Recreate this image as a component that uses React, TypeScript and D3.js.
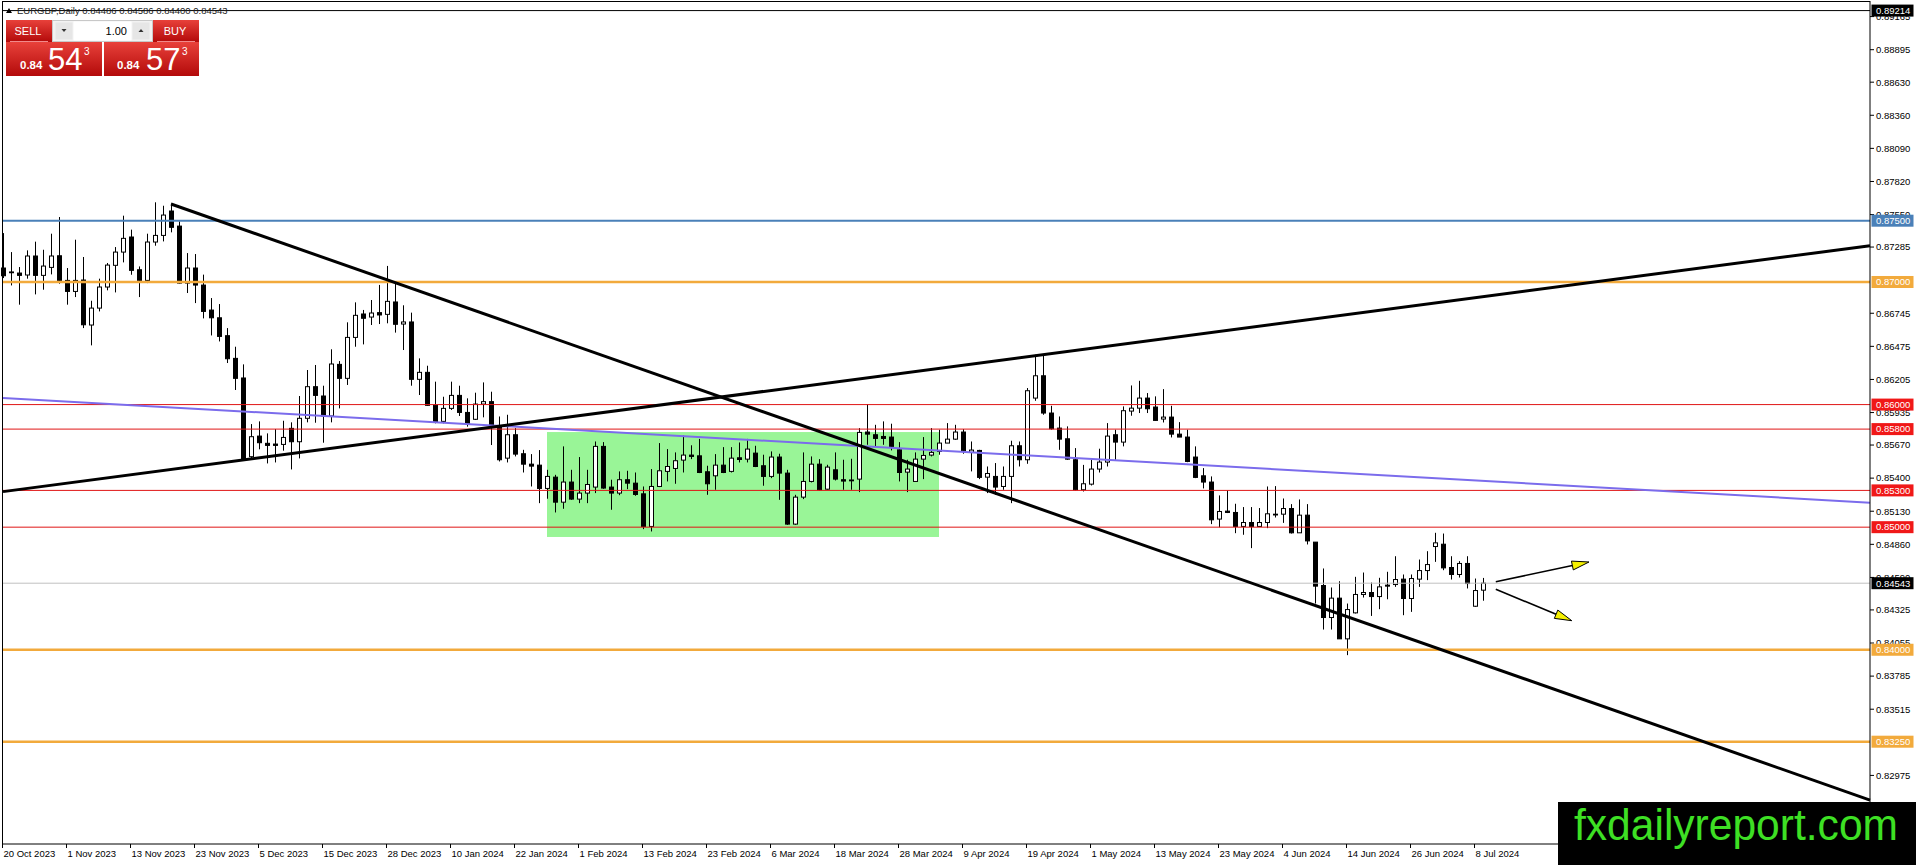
import React, { useEffect } from "react";
import * as d3 from "d3";

const W = 1916;
const H = 865;
const left = 3;
const right = 1870;
const top = 1.5;
const bottom = 844;

// daily EURGBP bars, 20 Oct 2023 .. 9 Jul 2024
const dateLabels = [
  "20 Oct 2023", "1 Nov 2023", "13 Nov 2023", "23 Nov 2023", "5 Dec 2023", "15 Dec 2023",
  "28 Dec 2023", "10 Jan 2024", "22 Jan 2024", "1 Feb 2024", "13 Feb 2024", "23 Feb 2024",
  "6 Mar 2024", "18 Mar 2024", "28 Mar 2024", "9 Apr 2024", "19 Apr 2024", "1 May 2024",
  "13 May 2024", "23 May 2024", "4 Jun 2024", "14 Jun 2024", "26 Jun 2024", "8 Jul 2024",
];

const opens = [
  0.87114, 0.87082, 0.87073, 0.87057, 0.87212, 0.87054, 0.87119, 0.87214, 0.87013, 0.86923,
  0.87016, 0.86649, 0.86787, 0.86959, 0.87136, 0.87244, 0.87367, 0.871, 0.87013, 0.87326,
  0.8738, 0.87579, 0.87456, 0.86991, 0.87114, 0.86975, 0.86771, 0.86708, 0.86562, 0.86377,
  0.86217, 0.85575, 0.85743, 0.85684, 0.85678, 0.85675, 0.85806, 0.85697, 0.85888, 0.86146,
  0.8607, 0.85907, 0.86328, 0.86214, 0.86548, 0.86739, 0.86714, 0.8675, 0.86736, 0.86837,
  0.86657, 0.86674, 0.86206, 0.86263, 0.85994, 0.85863, 0.85969, 0.86075, 0.85936, 0.8588,
  0.86004, 0.86024, 0.8582, 0.85563, 0.85754, 0.85599, 0.85514, 0.85506, 0.85316, 0.85408,
  0.85204, 0.85368, 0.85229, 0.85278, 0.85327, 0.85659, 0.85327, 0.85278, 0.85387, 0.85359,
  0.85272, 0.85006, 0.85332, 0.85455, 0.85479, 0.85547, 0.85588, 0.85582, 0.85452, 0.85419,
  0.85506, 0.85455, 0.85566, 0.85555, 0.85604, 0.85501, 0.85414, 0.85572, 0.85441, 0.85025,
  0.85245, 0.85373, 0.85514, 0.8531, 0.85468, 0.85387, 0.85378, 0.85392, 0.85776, 0.85754,
  0.8574, 0.85735, 0.85631, 0.85449, 0.85373, 0.85555, 0.85588, 0.85618, 0.85686, 0.85718,
  0.85776, 0.8561, 0.85626, 0.85408, 0.85414, 0.85332, 0.85414, 0.85664, 0.8555, 0.86053,
  0.86235, 0.85931, 0.85808, 0.85721, 0.8555, 0.85305, 0.85351, 0.85474, 0.85531, 0.85754,
  0.85694, 0.85947, 0.85971, 0.86053, 0.8598, 0.85882, 0.85898, 0.85759, 0.85735, 0.85572,
  0.85419, 0.85368, 0.85066, 0.85131, 0.8512, 0.85006, 0.85038, 0.85006, 0.85038, 0.85106,
  0.85106, 0.85152, 0.84954, 0.85098, 0.84878, 0.84524, 0.84263, 0.84421, 0.84089, 0.84301,
  0.84451, 0.84467, 0.84434, 0.84527, 0.84532, 0.84576, 0.84418, 0.84576, 0.84646, 0.84842,
  0.84861, 0.84671, 0.84614, 0.84704, 0.84355, 0.84486,
];

const highs = [
  0.87399, 0.87244, 0.87122, 0.87258, 0.87329, 0.87263, 0.87394, 0.8753, 0.87114, 0.87345,
  0.87204, 0.86847, 0.87027, 0.87155, 0.87285, 0.87541, 0.87427, 0.87127, 0.87394, 0.8765,
  0.87622, 0.87639, 0.87495, 0.87236, 0.87228, 0.8706, 0.86869, 0.8682, 0.86624, 0.86472,
  0.86328, 0.85841, 0.85863, 0.85765, 0.858, 0.85868, 0.85855, 0.8607, 0.86282, 0.86323,
  0.86154, 0.86451, 0.86355, 0.86671, 0.86834, 0.86772, 0.86853, 0.86976, 0.87131, 0.86984,
  0.8681, 0.8675, 0.86377, 0.86317, 0.86187, 0.86064, 0.86187, 0.86154, 0.86051, 0.86097,
  0.86181, 0.86105, 0.85903, 0.85917, 0.85808, 0.85631, 0.85596, 0.85629, 0.85468, 0.85427,
  0.85659, 0.85468, 0.85572, 0.85468, 0.85699, 0.85694, 0.85387, 0.85455, 0.8546, 0.85446,
  0.85332, 0.85474, 0.85686, 0.85637, 0.8561, 0.85747, 0.85668, 0.8572, 0.85501, 0.85596,
  0.85653, 0.85653, 0.85691, 0.8572, 0.85664, 0.85591, 0.85618, 0.85599, 0.85468, 0.85264,
  0.8561, 0.85577, 0.85555, 0.85509, 0.8561, 0.8555, 0.85558, 0.85808, 0.86004, 0.85835,
  0.85863, 0.85844, 0.85694, 0.8555, 0.8561, 0.85735, 0.85808, 0.85795, 0.85849, 0.85835,
  0.858, 0.85699, 0.85631, 0.85495, 0.85523, 0.85495, 0.85705, 0.85699, 0.86135, 0.86407,
  0.86407, 0.8599, 0.85903, 0.85822, 0.85645, 0.85508, 0.8555, 0.8564, 0.85849, 0.85795,
  0.85985, 0.86156, 0.86194, 0.86094, 0.86067, 0.86126, 0.8599, 0.85857, 0.85795, 0.85659,
  0.85482, 0.85414, 0.85259, 0.853, 0.85191, 0.85164, 0.85164, 0.85156, 0.85332, 0.85335,
  0.85234, 0.85188, 0.85226, 0.85188, 0.84878, 0.84663, 0.84508, 0.84559, 0.84377, 0.84595,
  0.8463, 0.84548, 0.84587, 0.84636, 0.84763, 0.84614, 0.84614, 0.84736, 0.84804, 0.84954,
  0.84948, 0.84763, 0.84723, 0.84763, 0.84581, 0.84586,
];

const lows = [
  0.87032, 0.86972, 0.86815, 0.87027, 0.86899, 0.86937, 0.87062, 0.86986, 0.86815, 0.86877,
  0.86624, 0.86483, 0.8676, 0.86932, 0.86915, 0.8716, 0.87059, 0.86877, 0.86991, 0.87296,
  0.87331, 0.87405, 0.86988, 0.8691, 0.86828, 0.86703, 0.86564, 0.86515, 0.86339, 0.86119,
  0.85548, 0.85561, 0.85635, 0.8552, 0.85528, 0.85624, 0.85471, 0.85561, 0.85855, 0.85852,
  0.85689, 0.85855, 0.85969, 0.8616, 0.86472, 0.86491, 0.86649, 0.86657, 0.86663, 0.86587,
  0.86445, 0.86154, 0.86078, 0.85991, 0.85847, 0.85847, 0.85956, 0.85907, 0.8582, 0.85874,
  0.85896, 0.8567, 0.85536, 0.85528, 0.85577, 0.85446, 0.85332, 0.85196, 0.85232, 0.8512,
  0.8515, 0.85223, 0.85196, 0.85196, 0.85278, 0.85313, 0.85142, 0.85261, 0.8531, 0.85256,
  0.84984, 0.84965, 0.85327, 0.85373, 0.85354, 0.85446, 0.85555, 0.85441, 0.85264, 0.85305,
  0.85441, 0.85446, 0.85528, 0.85528, 0.8549, 0.85338, 0.854, 0.85223, 0.85019, 0.85019,
  0.85229, 0.85365, 0.853, 0.85305, 0.85381, 0.85305, 0.85305, 0.85286, 0.85672, 0.85659,
  0.85672, 0.85626, 0.85373, 0.85286, 0.85373, 0.85392, 0.85577, 0.85591, 0.85686, 0.85713,
  0.85599, 0.85455, 0.85392, 0.85278, 0.85264, 0.85305, 0.85196, 0.85495, 0.85517, 0.86031,
  0.85917, 0.85795, 0.85631, 0.8555, 0.853, 0.85291, 0.8534, 0.85446, 0.85495, 0.8555,
  0.85659, 0.85909, 0.85931, 0.85931, 0.85868, 0.85854, 0.85732, 0.85735, 0.8553, 0.854,
  0.85316, 0.85025, 0.84999, 0.85115, 0.84951, 0.84938, 0.84829, 0.85006, 0.84992, 0.85079,
  0.85035, 0.84948, 0.84954, 0.84859, 0.84377, 0.84165, 0.84165, 0.84089, 0.83956, 0.84296,
  0.84426, 0.84276, 0.84331, 0.84412, 0.84513, 0.84282, 0.84309, 0.84513, 0.84568, 0.84717,
  0.84649, 0.84573, 0.84589, 0.845, 0.8435, 0.844,
];

const closes = [
  0.87051, 0.87077, 0.87054, 0.87212, 0.87054, 0.8713, 0.87212, 0.87013, 0.86923, 0.87013,
  0.86651, 0.86787, 0.86959, 0.87138, 0.87244, 0.87356, 0.87095, 0.87013, 0.87326, 0.8738,
  0.87546, 0.87446, 0.86991, 0.87114, 0.86975, 0.8676, 0.86708, 0.86556, 0.86374, 0.86214,
  0.85556, 0.85738, 0.85689, 0.85667, 0.85667, 0.85732, 0.85697, 0.85888, 0.86146, 0.86075,
  0.85907, 0.86331, 0.86214, 0.86548, 0.86728, 0.86704, 0.86747, 0.86731, 0.86842, 0.86655,
  0.86674, 0.86206, 0.86263, 0.85994, 0.85858, 0.85969, 0.86075, 0.85936, 0.85841, 0.86004,
  0.86024, 0.8582, 0.8555, 0.85754, 0.85596, 0.85514, 0.85498, 0.85316, 0.85414, 0.85204,
  0.85368, 0.85229, 0.85278, 0.85348, 0.85659, 0.85319, 0.85278, 0.85387, 0.85359, 0.85267,
  0.85006, 0.85332, 0.8546, 0.85495, 0.85542, 0.85588, 0.85577, 0.85446, 0.85354, 0.85506,
  0.85446, 0.85563, 0.85552, 0.85637, 0.85495, 0.85414, 0.85572, 0.85441, 0.85025, 0.85245,
  0.85373, 0.85514, 0.85305, 0.8549, 0.85392, 0.85376, 0.85385, 0.85773, 0.85759, 0.85724,
  0.85724, 0.85659, 0.85446, 0.85474, 0.85555, 0.85585, 0.8561, 0.85686, 0.85718, 0.85776,
  0.85623, 0.85629, 0.85406, 0.85438, 0.85327, 0.85414, 0.85664, 0.8555, 0.86113, 0.86235,
  0.85931, 0.85803, 0.85718, 0.85555, 0.85305, 0.85354, 0.85474, 0.85531, 0.85743, 0.85694,
  0.8595, 0.85971, 0.86053, 0.85966, 0.85871, 0.85898, 0.85759, 0.85735, 0.85536, 0.85406,
  0.85368, 0.8506, 0.85128, 0.8512, 0.85006, 0.85038, 0.85006, 0.85038, 0.85109, 0.85101,
  0.85152, 0.84954, 0.85098, 0.84888, 0.84519, 0.84263, 0.84421, 0.84089, 0.84328, 0.84451,
  0.84467, 0.84434, 0.84513, 0.84519, 0.84573, 0.84418, 0.84581, 0.84646, 0.84695, 0.84872,
  0.84668, 0.84614, 0.84704, 0.8454, 0.84483, 0.84543,
];

// horizontal levels drawn on the chart
const levelValues = [0.875, 0.87, 0.86, 0.858, 0.853, 0.85, 0.84, 0.8325];
const levelColors = ["#4a80b8", "#f2aa3c", "#e01515", "#e01515", "#e01515", "#e01515", "#f2aa3c", "#f2aa3c"];
const levelWidths = [2, 2.5, 1, 1, 1, 1, 2.5, 2.5];

const highMark = 0.89214;
const lastPrice = 0.84543;

// price scale labels (the ones under 0.87000 and 0.83250 are hidden in the original)
const priceTicks = [
  "0.89165", "0.88895", "0.88630", "0.88360", "0.88090", "0.87820", "0.87550", "0.87285",
  "0.86745", "0.86475", "0.86205", "0.85935", "0.85670", "0.85400", "0.85130",
  "0.84860", "0.84590", "0.84325", "0.84055", "0.83785", "0.83515", "0.82975",
];

// trend lines as [bar index, price] pairs
const falling: [number, number][] = [[21, 0.87636], [233.375, 0.82774]];
const rising: [number, number][] = [[0, 0.8529], [233.375, 0.87296]];
const slope: [number, number][] = [[0, 0.86054], [233.375, 0.852]];

// range box
const boxBars = [68, 117];
const boxPrices = [0.85776, 0.8492];

// projection arrows
const arrows: [number, number][][] = [
  [[186.6, 0.84555], [198.25, 0.84716]],
  [[186.6, 0.84493], [196.1, 0.84237]],
];

const font = "'Liberation Sans', Arial, sans-serif";

function Arrow({ p, x, y }: { p: [number, number][]; x: any; y: any }) {
  const x1 = x(p[0][0]), y1 = y(p[0][1]);
  const x2 = x(p[1][0]), y2 = y(p[1][1]);
  const a = Math.atan2(y2 - y1, x2 - x1);
  const len = 17, hw = 4.5;
  const bx = x2 - len * Math.cos(a), by = y2 - len * Math.sin(a);
  const nx = -Math.sin(a) * hw, ny = Math.cos(a) * hw;
  const pts = `${x2},${y2} ${bx + nx},${by + ny} ${bx - nx},${by - ny}`;
  return (
    <g>
      <line x1={x1} y1={y1} x2={bx} y2={by} stroke="#000" strokeWidth={1.6} />
      <polygon points={pts} fill="#f5f000" stroke="#000" strokeWidth={1} strokeLinejoin="round" />
    </g>
  );
}

export default function App() {
  useEffect(() => {
    document.body.style.margin = "0";
    document.body.style.overflow = "hidden";
  }, []);

  const x = d3.scaleLinear().domain([0, 1]).range([left, left + 8]);
  const y = d3.scaleLinear().domain([levelValues[0], levelValues[7]]).range([220.7, 741.7]);
  const line = d3.line<[number, number]>().x((d) => x(d[0])).y((d) => y(d[1]));

  const boxTop = y(boxPrices[0]);
  const boxBot = y(boxPrices[1]);

  const label = (v: number, bg: string, key: string) => {
    const yy = y(v);
    return (
      <g key={key}>
        <rect x={right + 1.5} y={yy - 6} width={42} height={12} fill={bg} />
        <text x={right + 6} y={yy} dy="0.35em" fill="#fff" fontSize={9.5} fontFamily={font}>
          {v.toFixed(5)}
        </text>
      </g>
    );
  };

  return (
    <svg width={W} height={H} style={{ display: "block", background: "#fff" }}>
      <defs>
        <linearGradient id="red" x1="0" y1="0" x2="0" y2="1">
          <stop offset="0" stopColor="#e8413a" />
          <stop offset="1" stopColor="#b30a0a" />
        </linearGradient>
      </defs>

      {/* range box */}
      <rect
        x={x(boxBars[0])}
        y={boxTop}
        width={x(boxBars[1]) - x(boxBars[0])}
        height={boxBot - boxTop}
        fill="#99f597"
      />

      {/* candles */}
      {opens.map((o, i) => {
        const c = closes[i];
        const cx = Math.round(x(i)) + 0.5;
        const t = y(Math.max(o, c));
        const b = y(Math.min(o, c));
        return (
          <g key={i}>
            <line x1={cx} x2={cx} y1={y(highs[i])} y2={y(lows[i])} stroke="#000" strokeWidth={1} />
            <rect
              x={cx - 2}
              y={t}
              width={4}
              height={Math.max(0.8, b - t)}
              fill={c >= o ? "#fff" : "#000"}
              stroke="#000"
              strokeWidth={1}
            />
          </g>
        );
      })}

      {/* horizontal levels */}
      <line x1={left} x2={right} y1={y(highMark)} y2={y(highMark)} stroke="#000" strokeWidth={1} />
      <line x1={left} x2={right} y1={y(lastPrice)} y2={y(lastPrice)} stroke="#c0c0c0" strokeWidth={1} />
      {levelValues.map((v, i) => (
        <line key={v} x1={left} x2={right} y1={y(v)} y2={y(v)} stroke={levelColors[i]} strokeWidth={levelWidths[i]} />
      ))}

      {/* trend lines */}
      <path d={line(slope)!} stroke="#7b6cec" strokeWidth={2} fill="none" />
      <path d={line(rising)!} stroke="#000" strokeWidth={3} fill="none" />
      <path d={line(falling)!} stroke="#000" strokeWidth={3} fill="none" />

      {arrows.map((p, i) => (
        <Arrow key={i} p={p} x={x} y={y} />
      ))}

      {/* frame */}
      <rect x={left - 0.5} y={top} width={right - left + 0.5} height={bottom - top} fill="none" stroke="#000" strokeWidth={1} />

      {/* price axis */}
      {priceTicks.map((t) => {
        const yy = y(+t);
        return (
          <g key={t}>
            <line x1={right} x2={right + 4} y1={yy} y2={yy} stroke="#000" />
            <text x={right + 6} y={yy} dy="0.35em" fontSize={9.5} fontFamily={font} fill="#000">
              {t}
            </text>
          </g>
        );
      })}
      {label(highMark, "#000", "hm")}
      {levelValues.map((v, i) => label(v, levelColors[i] === "#e01515" ? "#f01818" : levelColors[i], "l" + i))}
      {label(lastPrice, "#000", "lp")}

      {/* time axis */}
      {dateLabels.map((d, k) => {
        const xx = Math.round(x(k * 8)) - 0.5;
        return (
          <g key={d}>
            <line x1={xx} x2={xx} y1={bottom} y2={bottom + 4} stroke="#000" />
            <text x={xx + 1} y={857} fontSize={9.5} fontFamily={font} fill="#000">
              {d}
            </text>
          </g>
        );
      })}

      {/* title */}
      <polygon points="6,13 12,13 9,8" fill="#000" />
      <text x={17} y={14} fontSize={9.5} fontFamily={font} fill="#222">
        EURGBP,Daily  0.84486 0.84586 0.84400 0.84543
      </text>

      {/* one-click trading panel */}
      <g fontFamily={font}>
        <rect x={6} y={20} width={46} height={22} fill="url(#red)" />
        <rect x={6} y={42} width={96} height={34} fill="url(#red)" />
        <rect x={153} y={20} width={46} height={22} fill="url(#red)" />
        <rect x={104} y={42} width={95} height={34} fill="url(#red)" />
        <line x1={10} x2={48} y1={41.5} y2={41.5} stroke="#f08a8a" />
        <line x1={157} x2={195} y1={41.5} y2={41.5} stroke="#f08a8a" />
        <rect x={52.5} y={20.5} width={100} height={21} fill="#f2f2f2" stroke="#c8c8c8" />
        <rect x={73.5} y={21.5} width={58} height={19} fill="#fff" />
        <rect x={55.5} y={22.5} width={17} height={17} fill="#e6e6e6" />
        <rect x={132.5} y={22.5} width={17} height={17} fill="#e6e6e6" />
        <polygon points="61.5,29 66.5,29 64,32" fill="#333" />
        <polygon points="138.5,32 143.5,32 141,29" fill="#333" />
        <text x={28} y={35} textAnchor="middle" fontSize={11} fill="#fff">SELL</text>
        <text x={175} y={35} textAnchor="middle" fontSize={11} fill="#fff">BUY</text>
        <text x={127} y={34.5} textAnchor="end" fontSize={11} fill="#000">1.00</text>
        <text x={20} y={69} fontSize={11.5} fontWeight="bold" fill="#fff">0.84</text>
        <text x={48} y={70} fontSize={31} fill="#fff">54</text>
        <text x={84} y={55} fontSize={10} fill="#fff">3</text>
        <text x={117} y={69} fontSize={11.5} fontWeight="bold" fill="#fff">0.84</text>
        <text x={146} y={70} fontSize={31} fill="#fff">57</text>
        <text x={182} y={55} fontSize={10} fill="#fff">3</text>
      </g>

      {/* watermark */}
      <rect x={1558} y={802} width={W - 1558} height={H - 802} fill="#000" />
      <text
        x={1574}
        y={840}
        fontSize={44}
        fontFamily={font}
        fill="#3ee024"
        textLength={324}
        lengthAdjust="spacingAndGlyphs"
      >
        fxdailyreport.com
      </text>
    </svg>
  );
}
